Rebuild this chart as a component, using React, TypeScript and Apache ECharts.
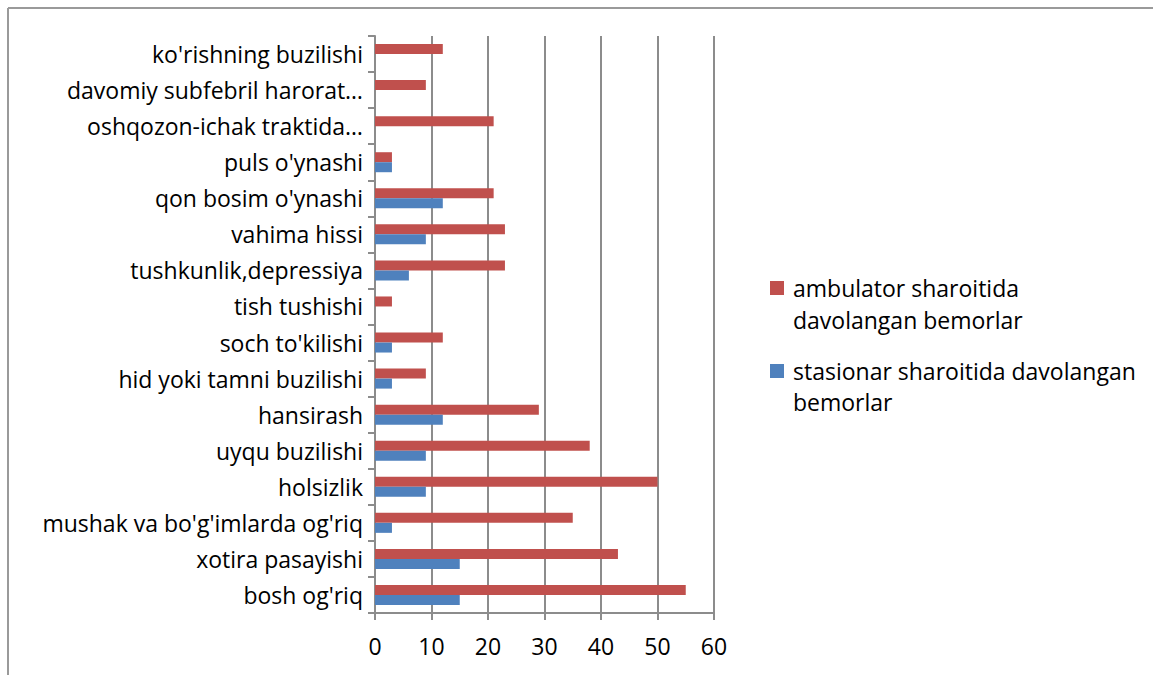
import React, { useEffect, useRef } from "react";
import * as echarts from "echarts";

const categories = [
  "bosh og'riq",
  "xotira pasayishi",
  "mushak va bo'g'imlarda og'riq",
  "holsizlik",
  "uyqu buzilishi",
  "hansirash",
  "hid yoki tamni buzilishi",
  "soch to'kilishi",
  "tish tushishi",
  "tushkunlik,depressiya",
  "vahima hissi",
  "qon bosim o'ynashi",
  "puls o'ynashi",
  "oshqozon-ichak traktida…",
  "davomiy subfebril harorat…",
  "ko'rishning buzilishi",
];

const ambulatorName = "ambulator sharoitida davolangan bemorlar";
const stasionarName = "stasionar sharoitida davolangan bemorlar";

const ambulator = [55, 43, 35, 50, 38, 29, 9, 12, 3, 23, 23, 21, 3, 21, 9, 12];
const stasionar = [15, 15, 3, 9, 9, 12, 3, 3, 0, 6, 9, 12, 3, 0, 0, 0];

const xTicks = { min: 0, max: 60, interval: 10 };

const RED = "#C0504D";
const BLUE = "#4F81BD";
const GRID = "#8C8C8C";
const FONT = "Open Sans";
const FS = 23;

export default function App() {
  const ref = useRef<HTMLDivElement>(null);

  useEffect(() => {
    document.body.style.margin = "0";
    if (!ref.current) return;
    const chart = echarts.init(ref.current, undefined, { renderer: "svg" });
    chart.setOption({
      animation: false,
      backgroundColor: "#ffffff",
      grid: { left: 375, right: 439, top: 36, bottom: 62, containLabel: false },
      xAxis: {
        type: "value",
        min: xTicks.min,
        max: xTicks.max,
        interval: xTicks.interval,
        axisLine: { show: true, lineStyle: { color: GRID, width: 2 } },
        axisTick: { show: true, length: 7, lineStyle: { color: GRID, width: 2 } },
        splitLine: { show: true, lineStyle: { color: GRID, width: 2 } },
        axisLabel: { color: "#000", fontFamily: FONT, fontSize: FS, margin: 21 },
      },
      yAxis: {
        type: "category",
        data: categories,
        axisLine: { show: true, lineStyle: { color: GRID, width: 2 } },
        axisTick: { show: true, length: 7, lineStyle: { color: GRID, width: 2 } },
        axisLabel: { color: "#000", fontFamily: FONT, fontSize: FS, margin: 12 },
        splitLine: { show: false },
      },
      series: [
        {
          name: ambulatorName,
          type: "bar",
          data: ambulator,
          barWidth: 10,
          barGap: "0%",
          itemStyle: { color: RED },
        },
        {
          name: stasionarName,
          type: "bar",
          data: stasionar,
          barWidth: 10,
          barGap: "0%",
          itemStyle: { color: BLUE },
        },
      ],
      graphic: [
        { type: "line", shape: { x1: 8, y1: 8, x2: 1153, y2: 8 }, style: { stroke: "#9a9a9a", lineWidth: 2 } },
        { type: "line", shape: { x1: 8, y1: 8, x2: 8, y2: 675 }, style: { stroke: "#9a9a9a", lineWidth: 2 } },
        { type: "rect", shape: { x: 770, y: 281, width: 14, height: 14 }, style: { fill: RED } },
        {
          type: "text",
          x: 793,
          y: 272,
          style: {
            text: "ambulator sharoitida\ndavolangan bemorlar",
            fontFamily: FONT,
            fontSize: FS,
            lineHeight: 32,
            fill: "#000",
            verticalAlign: "top",
          },
        },
        { type: "rect", shape: { x: 770, y: 364, width: 14, height: 14 }, style: { fill: BLUE } },
        {
          type: "text",
          x: 793,
          y: 355,
          style: {
            text: "stasionar sharoitida davolangan\nbemorlar",
            fontFamily: FONT,
            fontSize: FS,
            lineHeight: 31,
            fill: "#000",
            verticalAlign: "top",
          },
        },
      ],
    });
    return () => chart.dispose();
  }, []);

  return <div ref={ref} style={{ width: 1153, height: 675 }} />;
}
